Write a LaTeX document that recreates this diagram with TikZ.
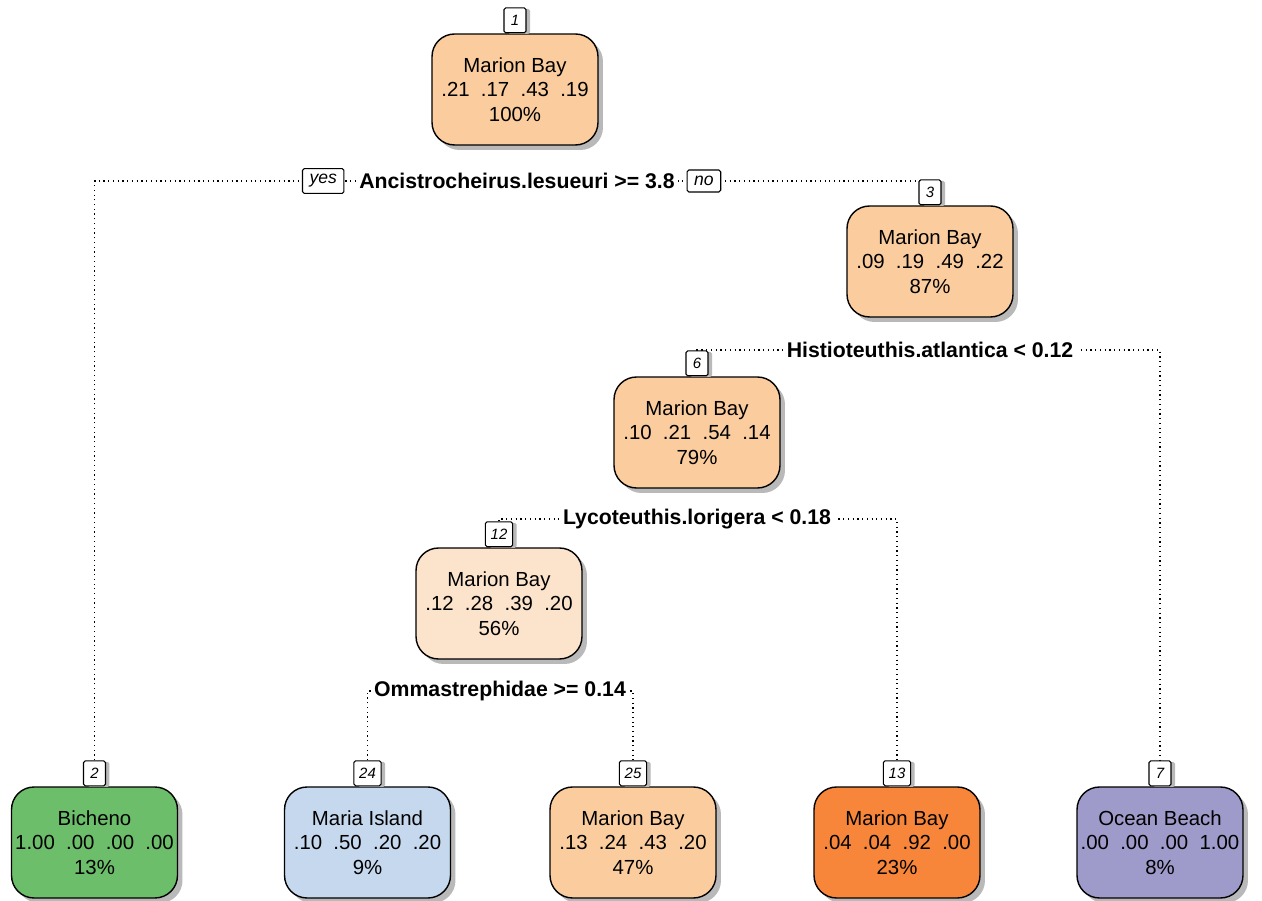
\documentclass[tikz,border=0pt]{standalone}
\usepackage{fontspec}
\setmainfont{Liberation Sans}
\usetikzlibrary{positioning, shadows, backgrounds}
\definecolor{MBroot}{RGB}{250,204,158}
\definecolor{MBlight}{RGB}{252,228,204}
\definecolor{MBdark}{RGB}{247,134,58}
\definecolor{BIgreen}{RGB}{108,190,106}
\definecolor{MIblue}{RGB}{197,216,237}
\definecolor{OBpurple}{RGB}{158,154,202}
\tikzset{
  BoxNode/.style = {
    draw, line width = 0.8pt, rounded corners = 0.45cm, align = center,
    minimum width = 3.32cm, minimum height = 2.22cm, inner sep = 0pt,
    font = \fontsize{11.6}{13.9}\selectfont,
    drop shadow = {shadow xshift = 0.1cm, shadow yshift = -0.1cm,
      fill = gray!55, opacity = 1},
  },
  TagNode/.style = {
    draw, fill = white, line width = 0.6pt, rounded corners = 1pt,
    minimum width = 0.44cm, minimum height = 0.5cm, inner xsep = 3pt,
    font = \fontsize{8.5}{10}\selectfont\itshape,
    drop shadow = {shadow xshift = 0.08cm, shadow yshift = -0.02cm,
      fill = gray!55, opacity = 1},
  },
  CondLabel/.style = {
    fill = white, inner sep = 2pt,
    font = \fontsize{12.1}{14.5}\selectfont\bfseries,
  },
  YesNo/.style = {
    draw, fill = white, line width = 0.6pt, rounded corners = 1pt,
    minimum height = 0.44cm, inner xsep = 4pt,
    font = \fontsize{10}{12}\selectfont\itshape,
  },
  SplitLine/.style = {draw, dotted, line width = 0.7pt},
}

\begin{document}
\begin{tikzpicture}[x = 0.02cm, y = -0.02cm]
  \useasboundingbox (0,0) rectangle (1262,901);
  % inner nodes
  \node[BoxNode, fill = MBroot](n1) at (515,89.5){Marion Bay\\.21\ \ .17\ \ .43\ \ .19\\100\%};
  \node[BoxNode, fill = MBroot](n3) at (930,261.5){Marion Bay\\.09\ \ .19\ \ .49\ \ .22\\87\%};
  \node[BoxNode, fill = MBroot](n6) at (697,432.5){Marion Bay\\.10\ \ .21\ \ .54\ \ .14\\79\%};
  \node[BoxNode, fill = MBlight](n12) at (499,603.5){Marion Bay\\.12\ \ .28\ \ .39\ \ .20\\56\%};
  % leaves
  \node[BoxNode, fill = BIgreen](n2) at (94.5,842.5){Bicheno\\1.00\ \ .00\ \ .00\ \ .00\\13\%};
  \node[BoxNode, fill = MIblue](n24) at (367.5,842.5){Maria Island\\.10\ \ .50\ \ .20\ \ .20\\9\%};
  \node[BoxNode, fill = MBroot](n25) at (633,842.5){Marion Bay\\.13\ \ .24\ \ .43\ \ .20\\47\%};
  \node[BoxNode, fill = MBdark](n13) at (897,842.5){Marion Bay\\.04\ \ .04\ \ .92\ \ .00\\23\%};
  \node[BoxNode, fill = OBpurple](n7) at (1160,842.5){Ocean Beach\\.00\ \ .00\ \ .00\ \ 1.00\\8\%};
  % node numbers
  \node[TagNode, above = 0pt of n1](t1){1};
  \node[TagNode, above = 0pt of n3](t3){3};
  \node[TagNode, above = 0pt of n6](t6){6};
  \node[TagNode, above = 0pt of n12](t12){12};
  \node[TagNode, above = 0pt of n2](t2){2};
  \node[TagNode, above = 0pt of n24](t24){24};
  \node[TagNode, above = 0pt of n25](t25){25};
  \node[TagNode, above = 0pt of n13](t13){13};
  \node[TagNode, above = 0pt of n7](t7){7};
  % split rules
  \node[CondLabel](c1) at (517,181){Ancistrocheirus.lesueuri >= 3.8};
  \node[YesNo, left = 0.22cm of c1](yes){yes};
  \node[YesNo, right = 0.16cm of c1](no){no};
  \node[CondLabel](c3) at (930,350){Histioteuthis.atlantica < 0.12};
  \node[CondLabel](c6) at (697,519){Lycoteuthis.lorigera < 0.18};
  \node[CondLabel](c12) at (500,691){Ommastrephidae >= 0.14};
  \begin{scope}[on background layer]
    \draw[SplitLine] (t2.north) |- (c1.center) -| (t3.north);
    \draw[SplitLine] (t6.north) |- (c3.center) -| (t7.north);
    \draw[SplitLine] (t12.north) |- (c6.center) -| (t13.north);
    \draw[SplitLine] (t24.north) |- (c12.center) -| (t25.north);
  \end{scope}
\end{tikzpicture}
\end{document}
